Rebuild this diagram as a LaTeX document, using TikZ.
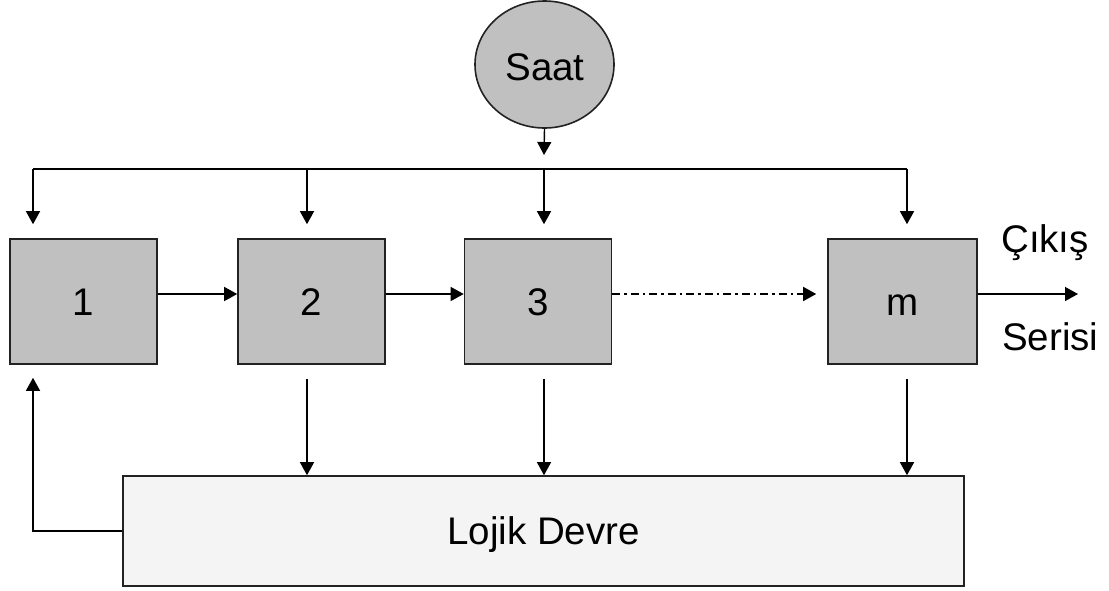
\documentclass[tikz,border=0pt]{standalone}
\usepackage{fontspec}
\setmainfont{Liberation Sans}
\usetikzlibrary{arrows.meta,shapes.geometric}
\definecolor{boxgray}{HTML}{C0C0C0}
\definecolor{logicfill}{HTML}{F4F4F4}
\definecolor{edge}{HTML}{222222}
\tikzset{
  bigtext/.style={font=\fontsize{38.5}{44}\selectfont, text height=27.6pt, text depth=0pt},
  stage/.style={draw=edge, line width=1.6pt, fill=boxgray, minimum width=147pt,
    minimum height=125pt, inner sep=0pt, bigtext},
  clocknode/.style={ellipse, draw=edge, line width=1.6pt, fill=boxgray, minimum width=139pt,
    minimum height=127pt, inner sep=0pt},
  logicbox/.style={draw=edge, line width=1.6pt, fill=logicfill, minimum width=841pt,
    minimum height=110pt, inner sep=0pt, bigtext},
  lbl/.style={inner sep=0pt, anchor=base west, font=\fontsize{38.5}{44}\selectfont},
  arr/.style={line width=1.4pt, draw=black, -{Triangle[length=13pt,width=14pt]}},
  wire/.style={line width=1.4pt, draw=black},
}
\begin{document}
\begin{tikzpicture}[x=1pt,y=-1pt]
\useasboundingbox (0,0) rectangle (1109,590);

% clock source and shift-register stages
\node[clocknode] (saat) at (544.5,64.5) {};
\node[bigtext, inner sep=0pt] (saattext) at (545,67) {Saat};
\node[stage] (b1) at (83.5,301.5) {1};
\node[stage] (b2) at (311.5,301.5) {2};
\node[stage] (b3) at (538,301.5) {3};
\node[stage, minimum width=149pt] (bm) at (902.5,301.5) {m};
\node[logicbox] (lojik) at (543.5,531) {Lojik Devre};

% output labels
\node[lbl] (cikis) at (1001,252) {Çıkış};
\node[lbl] (serisi) at (1002,350) {Serisi};

% clock bus
\coordinate (k1) at (33,169);
\coordinate (k2) at (307,169);
\coordinate (k3) at (544,169);
\coordinate (km) at (907,169);
\coordinate (ktip) at (544,155);
\draw[arr] (saat.south) -- (ktip);
\draw[wire] (k1) -- (km);
\draw[arr, shorten >=14pt] (k1) -- (k1 |- b1.north);
\draw[arr, shorten >=14pt] (k2) -- (k2 |- b2.north);
\draw[arr, shorten >=14pt] (k3) -- (k3 |- b3.north);
\draw[arr, shorten >=14pt] (km) -- (km |- bm.north);

% data path between stages
\coordinate (row) at (0,294);
\coordinate (out) at (1078,294);
\draw[arr] (b1.east |- row) -- (b2.west |- row);
\draw[arr] (b2.east |- row) -- (b3.west |- row);
\draw[line width=1.6pt, dash pattern=on 8pt off 4pt on 2.5pt off 4pt,
  -{Triangle[length=13pt,width=14pt]}, shorten >=11pt] (b3.east |- row) -- (bm.west |- row);
\draw[arr] (bm.east |- row) -- (out);

% stage outputs into the logic block
\draw[arr, shorten <=14pt] (b2.south -| k2) -- (lojik.north -| k2);
\draw[arr, shorten <=14pt] (b3.south -| k3) -- (lojik.north -| k3);
\draw[arr, shorten <=14pt] (bm.south -| km) -- (lojik.north -| km);

% feedback to the first stage
\draw[arr, shorten >=13pt] (lojik.west) -| (k1 |- b1.south);
\end{tikzpicture}
\end{document}
